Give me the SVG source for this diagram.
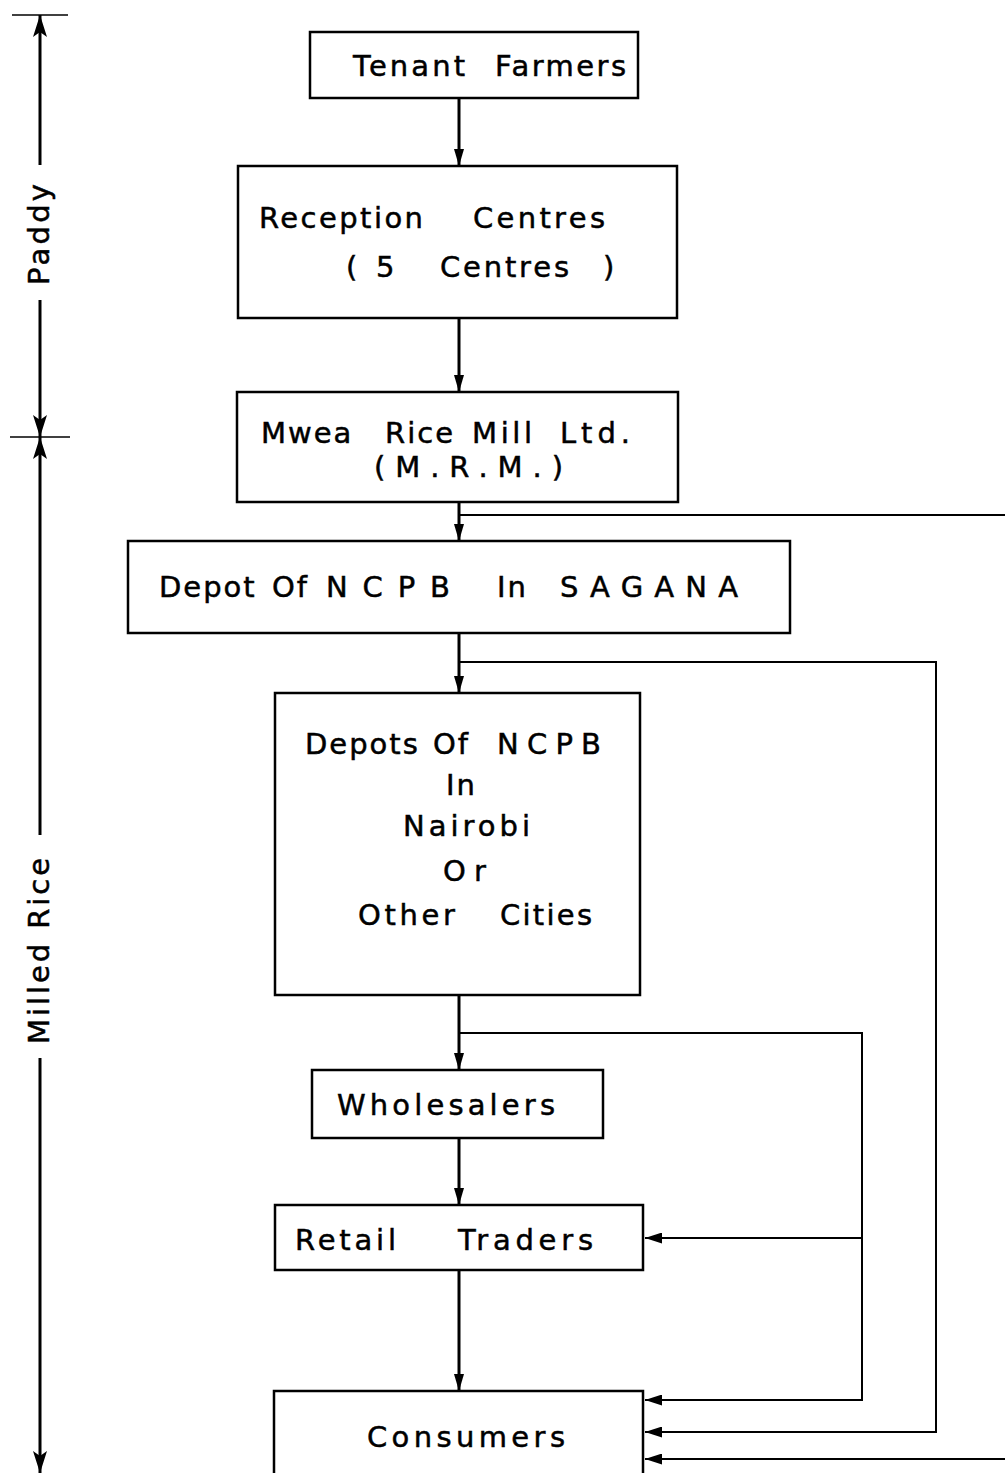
<svg xmlns="http://www.w3.org/2000/svg" width="1005" height="1473" viewBox="0 0 1005 1473">
<style>
.bg{fill:#fff}
.box{fill:none;stroke:#000;stroke-width:2.5}
.t{font-family:"DejaVu Sans","Liberation Sans",sans-serif;font-size:29px;fill:#000;stroke:#000;stroke-width:0.5;letter-spacing:2px}
.main{stroke:#000;stroke-width:3;fill:none}
.br{stroke:#000;stroke-width:2;fill:none}
.dim{stroke:#000;stroke-width:3;fill:none}
.tick{stroke:#000;stroke-width:1.5;fill:none}
</style>
<defs>
<marker id="ah" markerUnits="userSpaceOnUse" viewBox="0 0 17 10" markerWidth="17" markerHeight="10" refX="17" refY="5" orient="auto"><path d="M0,0 L17,5 L0,10 z" fill="#000"/></marker>
<marker id="sa" markerUnits="userSpaceOnUse" viewBox="0 0 17 11" markerWidth="17" markerHeight="11" refX="17" refY="5.5" orient="auto"><path d="M0,0 L17,5.5 L0,11 z" fill="#000"/></marker>
<marker id="da" markerUnits="userSpaceOnUse" viewBox="0 0 22 14" markerWidth="22" markerHeight="14" refX="22" refY="7" orient="auto"><path d="M0,0 L22,7 L0,14 L5,7 z" fill="#000"/></marker>
</defs>
<rect class="bg" x="0" y="0" width="1005" height="1473"/>

<g id="dimension">
<line class="tick" x1="12" y1="15" x2="68" y2="15"/>
<line class="dim" x1="40" y1="165" x2="40" y2="15" marker-end="url(#da)"/>
<line class="dim" x1="40" y1="300" x2="40" y2="437" marker-end="url(#da)"/>
<line class="tick" x1="10" y1="437" x2="70" y2="437"/>
<line class="dim" x1="40" y1="835" x2="40" y2="437" marker-end="url(#da)"/>
<line class="dim" x1="40" y1="1058" x2="40" y2="1473" marker-end="url(#da)"/>
<text class="t" transform="translate(49,233.5) rotate(-90)" text-anchor="middle" textLength="103" lengthAdjust="spacing">Paddy</text>
<text class="t" transform="translate(49,950) rotate(-90)" text-anchor="middle" textLength="188" lengthAdjust="spacing">Milled Rice</text>
</g>

<g id="connectors">
<line class="main" x1="459" y1="98" x2="459" y2="166" marker-end="url(#ah)"/>
<line class="main" x1="459" y1="318" x2="459" y2="392" marker-end="url(#ah)"/>
<line class="main" x1="459" y1="502" x2="459" y2="541" marker-end="url(#ah)"/>
<polyline class="br" points="459,515 1005,515"/>
<line class="main" x1="459" y1="633" x2="459" y2="693" marker-end="url(#ah)"/>
<polyline class="br" points="459,662 936,662 936,1432 645,1432" marker-end="url(#sa)"/>
<line class="main" x1="459" y1="995" x2="459" y2="1070" marker-end="url(#ah)"/>
<polyline class="br" points="459,1033 862,1033 862,1400 645,1400" marker-end="url(#sa)"/>
<polyline class="br" points="862,1238 645,1238" marker-end="url(#sa)"/>
<line class="main" x1="459" y1="1138" x2="459" y2="1205" marker-end="url(#ah)"/>
<line class="main" x1="459" y1="1270" x2="459" y2="1391" marker-end="url(#ah)"/>
<polyline class="br" points="1005,1459 645,1459" marker-end="url(#sa)"/>
</g>

<g id="tenant-farmers">
<rect class="box" x="310" y="32" width="328" height="66"/>
<text class="t" y="76"><tspan x="353" textLength="114" lengthAdjust="spacing">Tenant</tspan> <tspan x="495" textLength="133" lengthAdjust="spacing">Farmers</tspan></text>
</g>

<g id="reception-centres">
<rect class="box" x="238" y="166" width="439" height="152"/>
<text class="t" y="228"><tspan x="259" textLength="166" lengthAdjust="spacing">Reception</tspan> <tspan x="473" textLength="134" lengthAdjust="spacing">Centres</tspan></text>
<text class="t" y="277"><tspan x="346">(</tspan> <tspan x="376">5</tspan> <tspan x="440" textLength="131" lengthAdjust="spacing">Centres</tspan> <tspan x="603">)</tspan></text>
</g>

<g id="mwea-rice-mill">
<rect class="box" x="237" y="392" width="441" height="110"/>
<text class="t" y="443"><tspan x="261">Mwea</tspan> <tspan x="385">Rice</tspan> <tspan x="472" textLength="62" lengthAdjust="spacing">Mill</tspan> <tspan x="560" textLength="72" lengthAdjust="spacing">Ltd.</tspan></text>
<text class="t" y="477" x="374" textLength="191" lengthAdjust="spacing">(M.R.M.)</text>
</g>

<g id="depot-sagana">
<rect class="box" x="128" y="541" width="662" height="92"/>
<text class="t" y="597"><tspan x="159">Depot</tspan> <tspan x="272">Of</tspan> <tspan x="326" textLength="126" lengthAdjust="spacing">NCPB</tspan> <tspan x="497">In</tspan> <tspan x="560" textLength="180" lengthAdjust="spacing">SAGANA</tspan></text>
</g>

<g id="depots-nairobi">
<rect class="box" x="275" y="693" width="365" height="302"/>
<text class="t" y="754"><tspan x="305">Depots</tspan> <tspan x="433">Of</tspan> <tspan x="497" textLength="106" lengthAdjust="spacing">NCPB</tspan></text>
<text class="t" y="795" x="446">In</text>
<text class="t" y="836" x="403" textLength="129" lengthAdjust="spacing">Nairobi</text>
<text class="t" y="881" x="443" textLength="45" lengthAdjust="spacing">Or</text>
<text class="t" y="925"><tspan x="358" textLength="99" lengthAdjust="spacing">Other</tspan> <tspan x="500" textLength="94" lengthAdjust="spacing">Cities</tspan></text>
</g>

<g id="wholesalers">
<rect class="box" x="312" y="1070" width="291" height="68"/>
<text class="t" y="1115" x="337" textLength="220" lengthAdjust="spacing">Wholesalers</text>
</g>

<g id="retail-traders">
<rect class="box" x="275" y="1205" width="368" height="65"/>
<text class="t" y="1250"><tspan x="295" textLength="103" lengthAdjust="spacing">Retail</tspan> <tspan x="458" textLength="137" lengthAdjust="spacing">Traders</tspan></text>
</g>

<g id="consumers">
<path class="box" d="M274,1480 V1391 H643 V1480"/>
<text class="t" y="1447" x="367" textLength="200" lengthAdjust="spacing">Consumers</text>
</g>
</svg>
